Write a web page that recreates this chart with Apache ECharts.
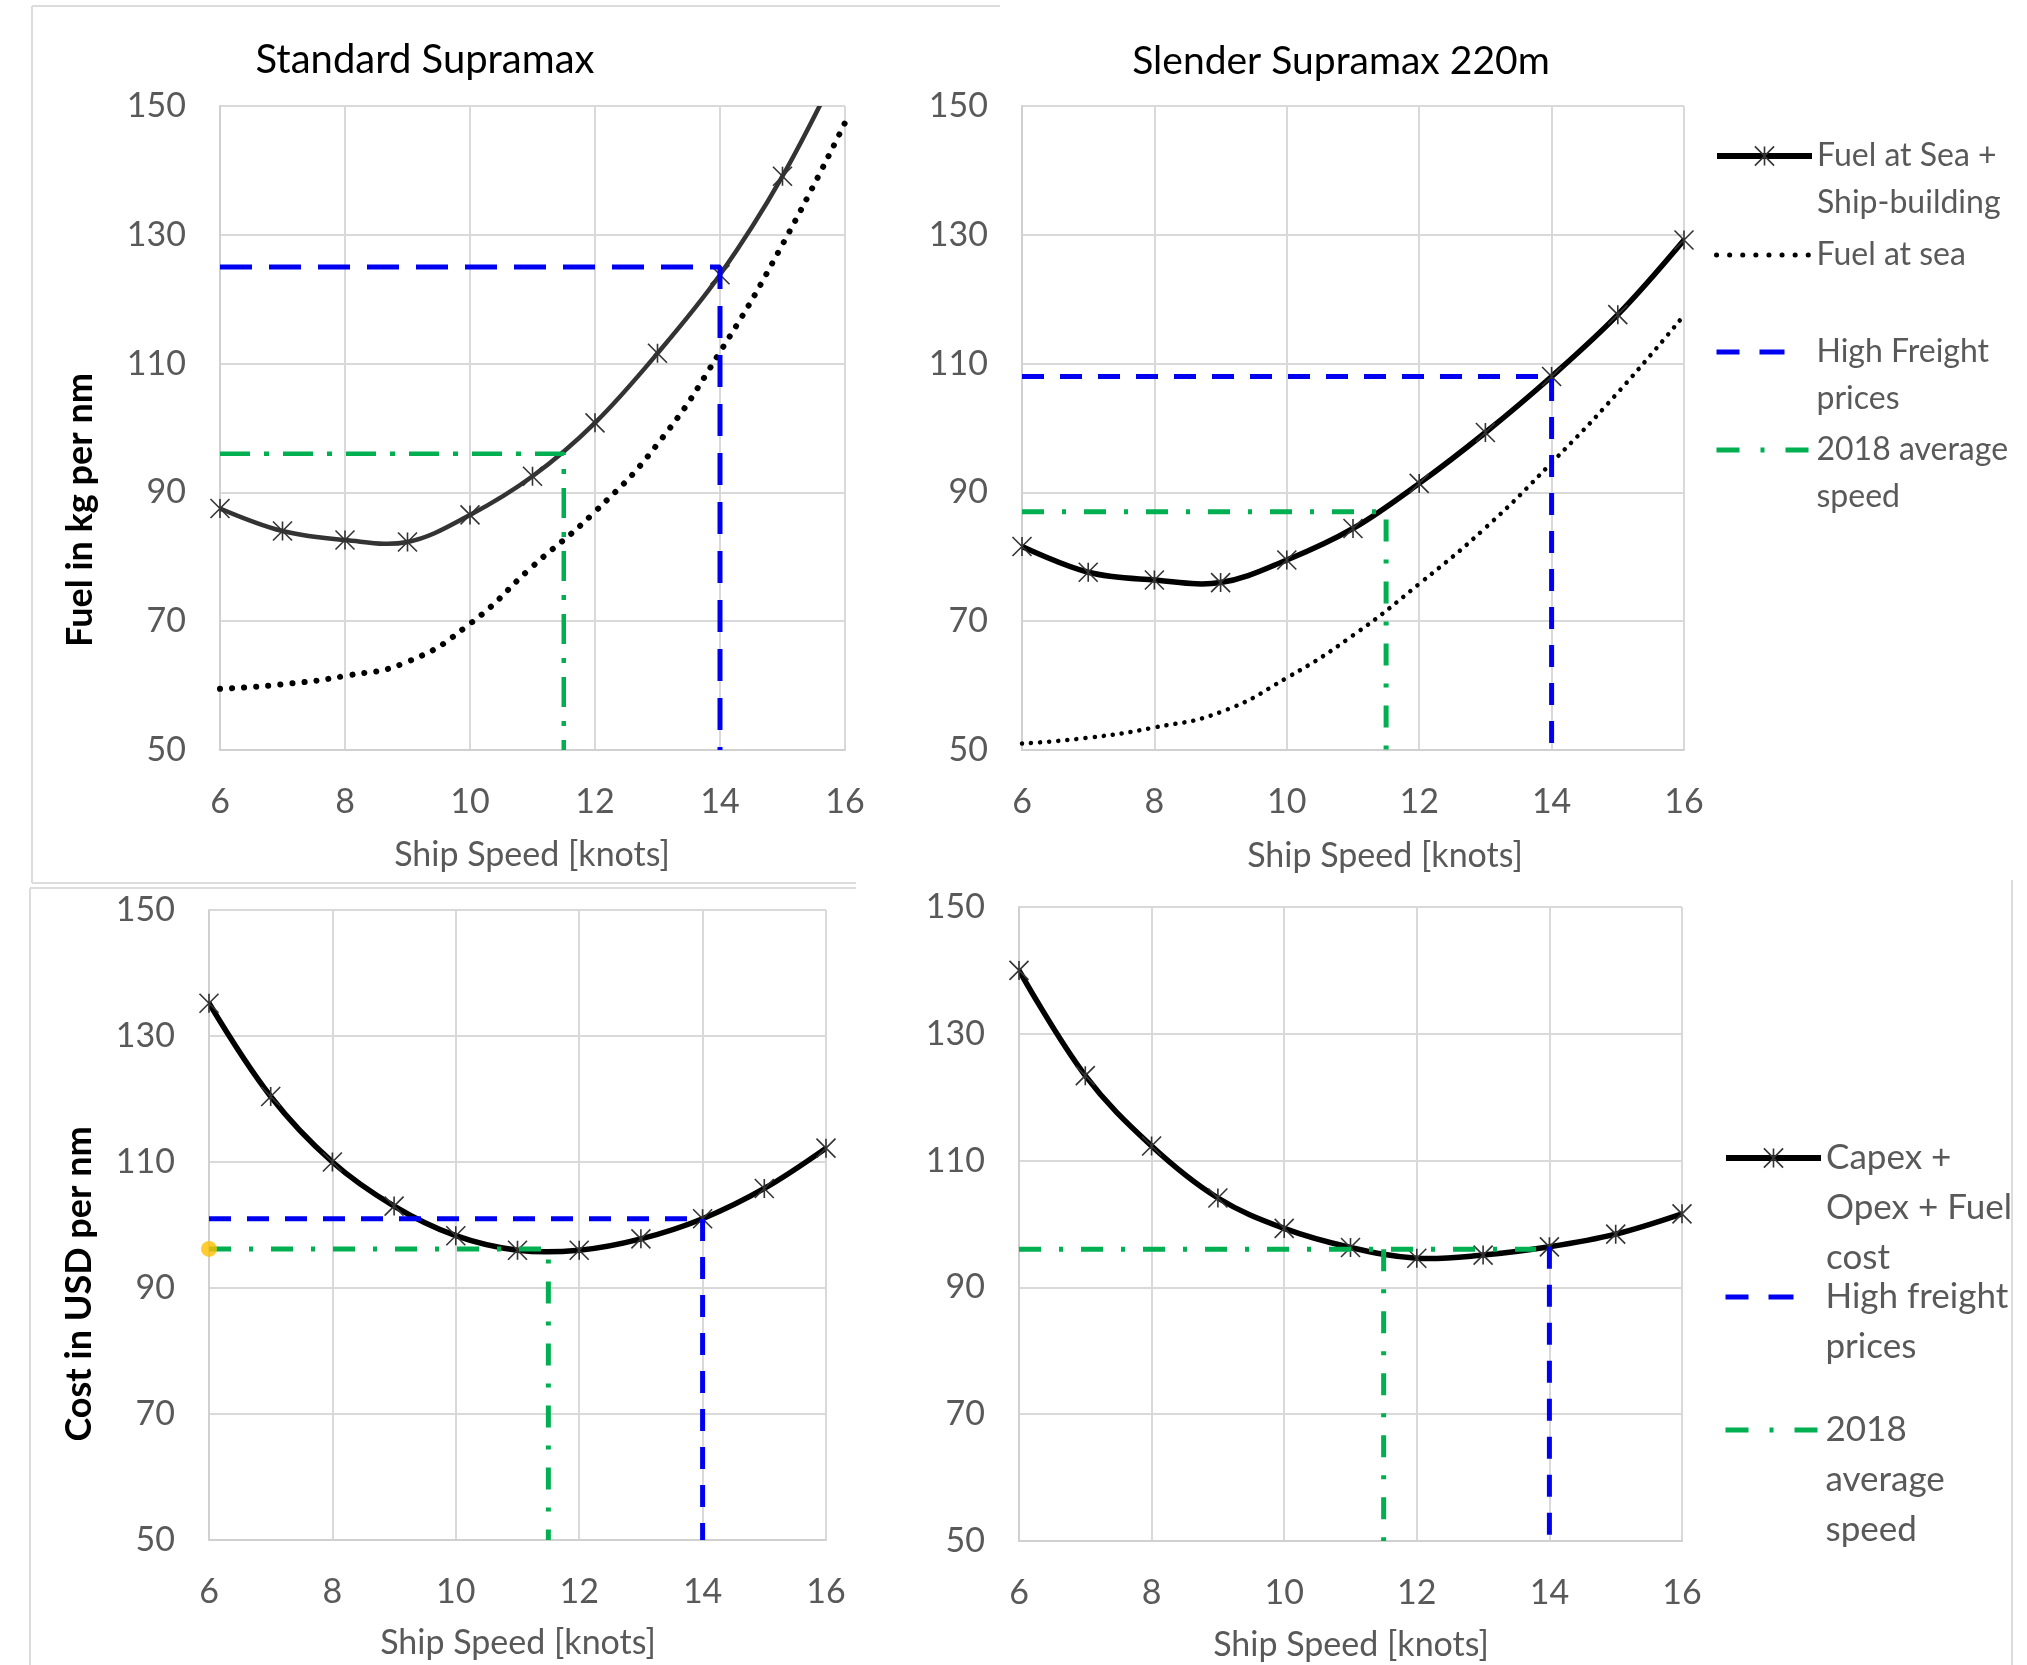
<!DOCTYPE html>
<html>
<head>
<meta charset="utf-8">
<title>Ship speed vs fuel and cost</title>
<script src="https://cdn.jsdelivr.net/npm/echarts@6/dist/echarts.min.js"></script>
<style>
  html, body { margin: 0; padding: 0; background: #fff; }
  #main { width: 2027px; height: 1665px; }
</style>
</head>
<body>
<div id="main"></div>
<script>
// ship speed in knots (x for every curve)
let speeds = [6, 7, 8, 9, 10, 11, 12, 13, 14, 15, 16]

// top-left: Standard Supramax, fuel in kg per nm
let stdFuelTotal = [87.5, 84.0, 82.6, 82.3, 86.5, 92.5, 100.8, 111.6, 123.8, 139.1, 158.0]
let stdFuelSea = [59.5, 60.2, 61.5, 63.7, 69.6, 78.5, 87.0, 97.5, 111.8, 128.5, 147.4]
let stdFuelHigh = [[6, 125], [14, 125], [14, 50]]
let stdFuelAvg = [[6, 96], [11.5, 96], [11.5, 50]]

// top-right: Slender Supramax 220m, fuel in kg per nm
let slimFuelTotal = [81.6, 77.6, 76.4, 76.0, 79.5, 84.4, 91.4, 99.3, 108.0, 117.6, 129.2]
let slimFuelSea = [51.0, 51.9, 53.5, 55.9, 61.2, 67.8, 75.8, 84.5, 94.6, 105.5, 117.5]
let slimFuelHigh = [[6, 108], [14, 108], [14, 50]]
let slimFuelAvg = [[6, 87], [11.5, 87], [11.5, 50]]

// bottom-left: Standard Supramax, cost in USD per nm
let stdCost = [135.2, 120.4, 110.0, 103.0, 98.3, 96.0, 96.0, 97.8, 101.0, 105.8, 112.2]
let stdCostHigh = [[6, 101], [14, 101], [14, 50]]
let stdCostAvg = [[6, 96.2], [11.5, 96.2], [11.5, 50]]
let stdCostDot = [[6, 96.2]]

// bottom-right: Slender Supramax, cost in USD per nm
let slimCost = [140.0, 123.4, 112.3, 104.1, 99.3, 96.3, 94.6, 95.1, 96.4, 98.4, 101.6]
let slimCostHigh = [[14, 96.4], [14, 50]]
let slimCostAvgH = [[6, 96], [13.8, 96]]
let slimCostAvgV = [[11.5, 96], [11.5, 50]]

let xTicks = { min: 6, max: 16, interval: 2 }
let yTicks = { min: 50, max: 150, interval: 20 }

const FONT = 'Lato'
const GRAY = '#595959'
const BLUE = '#0000f0'
const GREEN = '#00b050'
const star = 'path://M5,0L5,10M0,0L10,10M0,10L10,0'

function pairs(ys) {
  return speeds.map((s, i) => [s, ys[i]])
}

function xAxisFor(i) {
  return {
    type: 'value', gridIndex: i, min: xTicks.min, max: xTicks.max, interval: xTicks.interval,
    axisLine: { onZero: false, lineStyle: { color: '#d0d0d0', width: 2 } },
    axisTick: { show: false },
    axisLabel: { margin: 35, color: GRAY, fontFamily: FONT, fontSize: 34 },
    splitLine: { lineStyle: { color: '#d9d9d9', width: 2 } }
  }
}

function yAxisFor(i) {
  return {
    type: 'value', gridIndex: i, min: yTicks.min, max: yTicks.max, interval: yTicks.interval,
    axisLine: { show: true, lineStyle: { color: '#d0d0d0', width: 2 } },
    axisTick: { show: false },
    axisLabel: { margin: 34, color: GRAY, fontFamily: FONT, fontSize: 34 },
    splitLine: { lineStyle: { color: '#d9d9d9', width: 2 } }
  }
}

// the curve itself: a catmull-rom like spline through the points (closer to the
// excel smoothing than the line series smoothing, which goes flat near the minimum)
function curve(name, ys, i, color, width) {
  return {
    name: name, type: 'custom', xAxisIndex: i, yAxisIndex: i,
    data: pairs(ys), encode: { x: 0, y: 1 }, clip: true, silent: true, z: 3,
    renderItem: function (params, api) {
      if (params.dataIndex !== 0) return null
      let pts = pairs(ys).map(p => api.coord(p))
      return {
        type: 'polyline',
        shape: { points: pts, smooth: 0.36 },
        style: { stroke: color, lineWidth: width, fill: null, lineJoin: 'round' }
      }
    }
  }
}

// the star markers on the curve (this series also feeds the legend)
function markers(name, ys, i, color, width) {
  return {
    name: name, type: 'line', xAxisIndex: i, yAxisIndex: i,
    data: pairs(ys), symbol: star, symbolSize: 19,
    lineStyle: { color: color, width: width, opacity: 0 },
    itemStyle: { color: color, borderColor: '#333', borderWidth: 1.6 },
    z: 4
  }
}

function dottedLine(name, ys, i, width, gap) {
  return {
    name: name, type: 'line', xAxisIndex: i, yAxisIndex: i,
    data: pairs(ys), smooth: true, symbol: 'none',
    lineStyle: { color: '#000', width: width, type: [0.1, gap], cap: 'round' },
    itemStyle: { color: '#000' },
    z: 2
  }
}

function refLine(name, pts, i, color, dash, width) {
  return {
    name: name, type: 'line', xAxisIndex: i, yAxisIndex: i,
    data: pts, symbol: 'none',
    lineStyle: { color: color, width: width || 5, type: dash },
    itemStyle: { color: color },
    z: 5
  }
}

// one legend box per entry so the spacing can follow the picture;
// blank lines in front keep the icon level with the first text line
function legendEntry(name, left, firstY, lines, lh, size, lineStyle, itemStyle) {
  let boxH = (2 * lines - 1) * lh
  return {
    data: [name], orient: 'vertical', left: left, top: firstY - boxH / 2,
    padding: 0, itemWidth: 95, itemHeight: 24, selectedMode: false,
    formatter: n => '\n'.repeat(lines - 1) + n,
    textStyle: { fontFamily: FONT, fontSize: size, color: GRAY, lineHeight: lh },
    lineStyle: lineStyle,
    itemStyle: itemStyle || { color: 'transparent', borderColor: 'transparent', borderWidth: 0 }
  }
}

let lgSolid = { color: '#000', width: 6, opacity: 1, type: 'solid' }
let lgStar = { color: 'transparent', borderColor: '#333', borderWidth: 1.6 }
let lgDots = { color: '#000', width: 5, opacity: 1, type: [0.1, 13], cap: 'round' }
let lgBlue = { color: BLUE, width: 5, opacity: 1, type: [23, 20, 25, 100] }
let lgGreen = { color: GREEN, width: 5, opacity: 1, type: [23, 21, 4, 21, 23, 100] }

function label(text, x, y, size, color) {
  return {
    type: 'text', x: x, y: y, silent: true,
    style: { text: text, font: size + 'px ' + FONT, fill: color, align: 'center', verticalAlign: 'middle' }
  }
}

function vLabel(text, x, y) {
  return {
    type: 'text', x: x, y: y, rotation: Math.PI / 2, silent: true,
    style: { text: text, font: 'bold 36px ' + FONT, fill: '#000', align: 'center', verticalAlign: 'middle' }
  }
}

function edge(x1, y1, x2, y2) {
  return { type: 'line', silent: true, z: -10, shape: { x1: x1, y1: y1, x2: x2, y2: y2 }, style: { stroke: '#dcdcdc', lineWidth: 2 } }
}

let dashBig = [32, 17]
let dashDotBig = [30, 14, 5, 14]
let dash = [22, 16]
let dashDot = [22, 18, 4, 18]

let option = {
  animation: false,
  backgroundColor: '#fff',
  grid: [
    { left: 220, top: 106, width: 625, height: 644 },
    { left: 1022, top: 106, width: 662, height: 644 },
    { left: 209, top: 910, width: 617, height: 630 },
    { left: 1019, top: 907, width: 663, height: 634 }
  ],
  xAxis: [xAxisFor(0), xAxisFor(1), xAxisFor(2), xAxisFor(3)],
  yAxis: [yAxisFor(0), yAxisFor(1), yAxisFor(2), yAxisFor(3)],
  legend: [
    legendEntry('Fuel at Sea +\nShip-building', 1714, 156, 2, 47, 32, lgSolid, lgStar),
    legendEntry('Fuel at sea', 1714, 255, 1, 47, 32, lgDots),
    legendEntry('High Freight\nprices', 1714, 352, 2, 47, 32, lgBlue),
    legendEntry('2018 average\nspeed', 1714, 450, 2, 47, 32, lgGreen),
    legendEntry('Capex +\nOpex + Fuel\ncost', 1723, 1158, 3, 50, 35, lgSolid, lgStar),
    legendEntry('High freight\nprices', 1723, 1297, 2, 50, 35, lgBlue),
    legendEntry('2018\naverage\nspeed', 1723, 1430, 3, 50, 35, lgGreen)
  ],
  series: [
    // top-right
    curve('Slender fuel curve', slimFuelTotal, 1, '#000', 5.5),
    markers('Fuel at Sea +\nShip-building', slimFuelTotal, 1, '#000', 5.5),
    dottedLine('Fuel at sea', slimFuelSea, 1, 4.5, 9),
    refLine('High Freight\nprices', slimFuelHigh, 1, BLUE, dash),
    refLine('2018 average\nspeed', slimFuelAvg, 1, GREEN, dashDot),
    // top-left
    curve('Standard fuel curve', stdFuelTotal, 0, '#333', 4.5),
    markers('Standard: fuel + ship-building', stdFuelTotal, 0, '#333', 4.5),
    dottedLine('Standard: fuel at sea', stdFuelSea, 0, 6, 12),
    refLine('Standard: high freight', stdFuelHigh, 0, BLUE, dashBig, 5),
    refLine('Standard: 2018 speed', stdFuelAvg, 0, GREEN, dashDotBig, 4.5),
    // bottom-left
    curve('Standard cost curve', stdCost, 2, '#000', 5.5),
    markers('Standard: capex + opex + fuel', stdCost, 2, '#000', 5.5),
    refLine('Standard cost: high freight', stdCostHigh, 2, BLUE, dash),
    refLine('Standard cost: 2018 speed', stdCostAvg, 2, GREEN, dashDot),
    {
      name: 'Standard cost: 2018 point', type: 'scatter', xAxisIndex: 2, yAxisIndex: 2,
      data: stdCostDot, symbolSize: 16, itemStyle: { color: '#ffc000' }, z: 6
    },
    // bottom-right
    curve('Slender cost curve', slimCost, 3, '#000', 5.5),
    markers('Capex +\nOpex + Fuel\ncost', slimCost, 3, '#000', 5.5),
    refLine('High freight\nprices', slimCostHigh, 3, BLUE, dash),
    refLine('2018\naverage\nspeed', slimCostAvgH, 3, GREEN, dashDot),
    refLine('2018\naverage\nspeed', slimCostAvgV, 3, GREEN, dashDot)
  ],
  graphic: [
    // panel frames
    edge(32, 6, 1000, 6),
    edge(32, 6, 32, 883),
    edge(32, 883, 856, 883),
    edge(30, 888, 856, 888),
    edge(30, 888, 30, 1665),
    edge(2012, 880, 2012, 1665),
    // titles and axis names
    label('Standard Supramax', 425, 60, 40, '#000'),
    label('Slender Supramax 220m', 1341, 61, 39, '#000'),
    label('Ship Speed [knots]', 532, 855, 34, GRAY),
    label('Ship Speed [knots]', 1385, 856, 34, GRAY),
    label('Ship Speed [knots]', 518, 1643, 34, GRAY),
    label('Ship Speed [knots]', 1351, 1645, 34, GRAY),
    vLabel('Fuel in kg per nm', 80, 510),
    vLabel('Cost in USD per nm', 79, 1284)
  ]
}

let myChart = echarts.init(document.getElementById('main'))
myChart.setOption(option)
</script>
</body>
</html>
